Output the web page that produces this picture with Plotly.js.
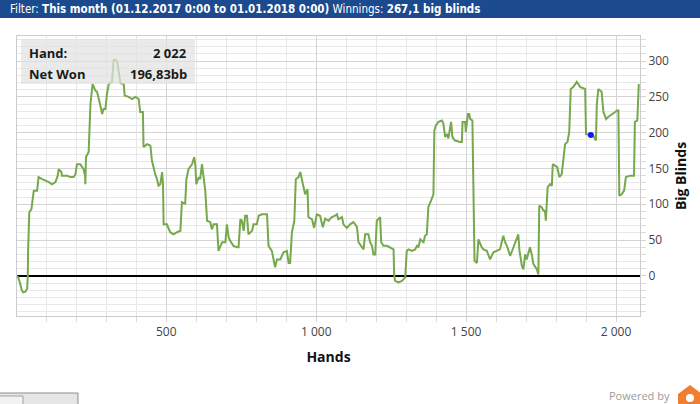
<!DOCTYPE html>
<html>
<head>
<meta charset="utf-8">
<script src="https://cdn.plot.ly/plotly-3.0.1.min.js"></script>
<style>
  html, body { margin: 0; padding: 0; background: #ffffff; }
  #chart { width: 700px; height: 404px; }
</style>
</head>
<body>
<div id="chart"></div>
<script>
// ---- data ----
var hands = [0,6,12,17,22,30,36,38,39,42,43,50,55,58,69,74,86,100,108,119,130,138,141,150,152,169,180,191,197,202,213,224,229,230,232,241,247,254,263,269,274,280,286,291,297,302,308,319,324,330,336,341,347,358,361,374,386,397,408,413,422,424,436,447,452,463,469,474,480,486,489,491,502,513,
  524,536,547,552,563,567,574,586,593,597,600,608,613,619,625,630,636,647,652,658,669,674,686,697,702,708,713,724,736,741,747,752,758,763,769,774,786,791,802,808,819,836,841,852,863,869,880,891,902,908,913,919,927,932,941,947,952,958,963,971,974,986,993,1002,1013,1022,1030,1041,
  1052,1063,1069,1074,1086,1091,1102,1113,1124,1130,1136,1141,1152,1158,1163,1174,1180,1186,1191,1197,1202,1213,1217,1224,1236,1247,1258,1260,1263,1274,1286,1297,1302,1308,1319,1330,1336,1341,1347,1358,1363,1369,1374,1383,1391,1394,1399,1408,1419,1424,1430,1436,1441,1447,1450,1454,1463,1480,1486,1488,1497,1499,1506,1510,1514,1521,1524,1528,1536,1541,1552,
  1558,1569,1580,1591,1602,1613,1624,1630,1636,1647,1658,1669,1674,1678,1686,1691,1697,1702,1713,1719,1724,1736,1741,1744,1752,1758,1763,1766,1769,1772,1780,1786,1789,1797,1804,1811,1819,1830,1838,1844,1849,1858,1869,1874,1880,1897,1900,1913,1924,1933,1936,1941,1952,1958,1967,1974,1986,1997,2004,2008,2011,2019,2027,2033,2047,2060,2063,2071,2076];
var netWon = [0,-2,-10,-19,-23,-22,-18,0,35,60,89,93,110,119,119,138,135,133,131,128,131,140,149,145,140,140,138,138,142,156,156,149,140,128,166,173,240,268,259,257,250,238,226,233,233,254,268,271,301,302,299,287,269,268,252,250,247,250,247,229,229,180,184,182,161,142,135,126,128,145,128,72,72,61,
  58,61,63,103,101,135,149,156,166,154,128,138,135,156,138,119,77,75,65,72,72,35,47,47,72,54,49,42,40,40,79,77,63,84,84,58,63,72,72,84,86,86,42,35,12,23,23,33,35,18,18,61,77,135,138,145,135,124,114,121,82,79,67,86,84,68,80,77,
  82,84,86,79,82,72,67,72,75,72,68,47,40,37,58,58,47,42,30,30,77,82,47,42,42,40,37,2,-7,-9,-7,-2,35,37,35,37,42,40,51,47,56,58,96,105,114,203,210,215,217,213,194,198,192,208,215,194,189,187,187,215,215,201,226,226,219,217,149,21,18,51,40,
  37,35,23,33,35,37,56,47,42,28,40,54,58,35,14,9,30,23,40,30,17,9,2,98,96,91,91,77,101,124,128,126,156,154,152,138,142,184,187,201,261,264,271,268,264,261,198,197,196,189,240,261,257,229,219,222,226,229,231,231,112,114,119,138,140,140,215,217,268];

var highlightHand = [1916];
var highlightNet = [196.83];
var tooltipLabels = ["Hand:", "Net Won"];
var tooltipValues = ["2 022", "196,83bb"];
var filterText = "Filter: <b>This month (01.12.2017 0:00 to 01.01.2018 0:00)</b> Winnings: <b>267,1 big blinds</b>";
var xTickVals = [500, 1000, 1500, 2000];
var xTickText = ["500", "1 000", "1 500", "2 000"];
var yTickVals = [0, 50, 100, 150, 200, 250, 300];

// ---- pixel helpers for layout decoration (plot area: x 17..640, y 36..316) ----
var PL = 17, PR = 640, PT = 36, PB = 316;
function px(x) { return (x - PL) / (PR - PL); }
function py(y) { return (PB - y) / (PB - PT); }

var FONT = "'Open Sans', 'Noto Sans', sans-serif";

var traces = [
  {
    x: hands, y: netWon, type: 'scatter', mode: 'lines',
    line: { color: '#76a84c', width: 2 },
    hoverinfo: 'skip', showlegend: false
  },
  {
    x: highlightHand, y: highlightNet, type: 'scatter', mode: 'markers',
    marker: { color: '#0a1ef0', size: 6 },
    hoverinfo: 'skip', showlegend: false
  }
];

var shapes = [
  // header bar
  { type: 'rect', xref: 'paper', yref: 'paper', x0: px(-5), x1: px(705), y0: py(18), y1: py(-2),
    fillcolor: '#1b4a8e', line: { width: 0 }, layer: 'above' },
  // tooltip box
  { type: 'rect', xref: 'paper', yref: 'paper', x0: px(21), x1: px(195), y0: py(84), y1: py(39),
    fillcolor: 'rgba(226,226,226,0.72)', line: { width: 0 }, layer: 'above' },
  // bottom-left widget
  { type: 'rect', xref: 'paper', yref: 'paper', x0: px(-2), x1: px(78), y0: py(406), y1: py(393),
    fillcolor: '#e6e6e6', line: { color: '#8c8c8c', width: 1 }, layer: 'above' },
  { type: 'rect', xref: 'paper', yref: 'paper', x0: px(-2), x1: px(23), y0: py(406), y1: py(396),
    fillcolor: '#f2f2f2', line: { color: '#a0a0a0', width: 1 }, layer: 'above' },
  // orange logo (partially cut off)
  { type: 'path', xref: 'paper', yref: 'paper', layer: 'above',
    path: 'M ' + px(678) + ' ' + py(406) + ' L ' + px(678) + ' ' + py(394) + ' L ' + px(690) + ' ' + py(385) +
          ' L ' + px(702) + ' ' + py(394) + ' L ' + px(702) + ' ' + py(406) + ' Z',
    fillcolor: '#f07d30', line: { width: 0 } },
  { type: 'circle', xref: 'paper', yref: 'paper', layer: 'above',
    x0: px(686), x1: px(694), y0: py(402), y1: py(394), fillcolor: '#ffffff', line: { width: 0 } }
];

var annotations = [
  { xref: 'paper', yref: 'paper', x: px(8), y: py(9), xanchor: 'left', yanchor: 'middle', showarrow: false,
    text: filterText, font: { family: "'Liberation Sans Narrow', 'DejaVu Sans Condensed', sans-serif", size: 11.5, color: '#ffffff' } },
  { xref: 'paper', yref: 'paper', x: px(27), y: py(53), xanchor: 'left', yanchor: 'middle', showarrow: false,
    text: '<b>' + tooltipLabels[0] + '</b>', font: { family: FONT, size: 13, color: '#1a1a1a' } },
  { xref: 'paper', yref: 'paper', x: px(189), y: py(53), xanchor: 'right', yanchor: 'middle', showarrow: false,
    text: '<b>' + tooltipValues[0] + '</b>', font: { family: FONT, size: 13, color: '#1a1a1a' } },
  { xref: 'paper', yref: 'paper', x: px(27), y: py(74), xanchor: 'left', yanchor: 'middle', showarrow: false,
    text: '<b>' + tooltipLabels[1] + '</b>', font: { family: FONT, size: 13, color: '#1a1a1a' } },
  { xref: 'paper', yref: 'paper', x: px(189), y: py(74), xanchor: 'right', yanchor: 'middle', showarrow: false,
    text: '<b>' + tooltipValues[1] + '</b>', font: { family: FONT, size: 13, color: '#1a1a1a' } },
  { xref: 'paper', yref: 'paper', x: px(672), y: py(396), xanchor: 'right', yanchor: 'middle', showarrow: false,
    text: 'Powered by', font: { family: FONT, size: 11, color: '#9a9a9a' } }
];

var layout = {
  width: 700, height: 404,
  margin: { l: PL, r: 700 - PR, t: PT, b: 404 - PB, pad: 0 },
  paper_bgcolor: '#ffffff', plot_bgcolor: '#ffffff',
  font: { family: FONT, size: 12, color: '#444444' },
  showlegend: false,
  xaxis: {
    range: [2, 2080],
    tickvals: xTickVals, ticktext: xTickText,
    showgrid: true, gridcolor: '#d4d4d4', gridwidth: 1,
    ticks: 'outside', ticklen: 5, tickcolor: '#d4d4d4',
    minor: { dtick: 100, tick0: 0, showgrid: true, gridcolor: '#e8e8e8', ticks: 'outside', ticklen: 5, tickcolor: '#dcdcdc' },
    showline: true, linecolor: '#cccccc', linewidth: 1, mirror: true,
    zeroline: false,
    tickfont: { family: FONT, size: 12, color: '#444444' },
    title: { text: '<b>Hands</b>', font: { family: FONT, size: 14, color: '#111111' }, standoff: 12 }
  },
  yaxis: {
    range: [-56, 335],
    side: 'right',
    tickmode: 'array', tickvals: yTickVals,
    showgrid: true, gridcolor: '#d4d4d4', gridwidth: 1,
    ticks: 'outside', ticklen: 5, tickcolor: '#d4d4d4',
    minor: { dtick: 10, tick0: 0, showgrid: true, gridcolor: '#e8e8e8', ticks: 'outside', ticklen: 5, tickcolor: '#dcdcdc' },
    showline: true, linecolor: '#cccccc', linewidth: 1, mirror: true,
    zeroline: true, zerolinecolor: '#000000', zerolinewidth: 2.5,
    tickfont: { family: FONT, size: 12, color: '#444444' },
    title: { text: '<b>Big Blinds</b>', font: { family: FONT, size: 14, color: '#111111' }, standoff: 8 }
  },
  shapes: shapes,
  annotations: annotations
};

Plotly.newPlot('chart', traces, layout, { displayModeBar: false, staticPlot: true });
</script>
</body>
</html>
